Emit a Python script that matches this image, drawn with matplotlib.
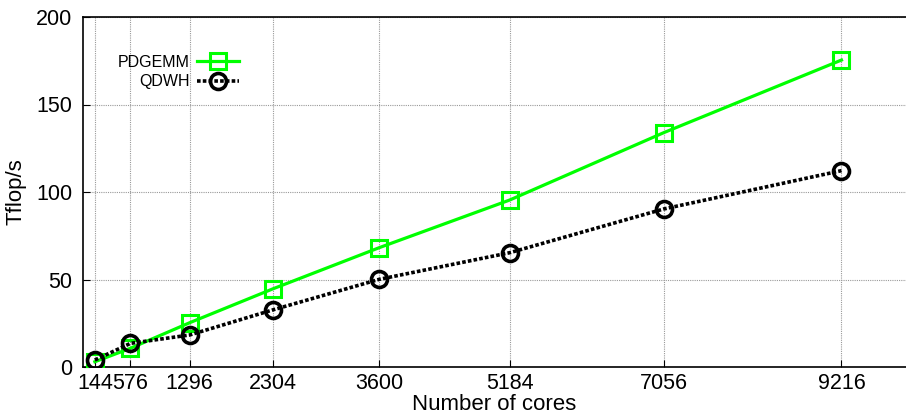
import matplotlib
matplotlib.use("Agg")
import matplotlib.pyplot as plt

plt.rcParams['font.family'] = ['Liberation Sans', 'DejaVu Sans']

cores = [144, 576, 1296, 2304, 3600, 5184, 7056, 9216]
pdgemm = [3.0, 10.7, 25.3, 44.6, 68.2, 95.4, 133.9, 175.4]
qdwh = [4.0, 13.5, 18.3, 32.6, 50.1, 65.3, 90.3, 112.2]
yticks = [0, 50, 100, 150, 200]

fig = plt.figure(figsize=(9.06, 4.16), dpi=100)
ax = fig.add_axes([83/906, 1 - 367/416, (906 - 83)/906, (367 - 17)/416])

ax.plot(cores, pdgemm, color='#00ff00', lw=2.3, marker='s', markersize=11.5,
        markerfacecolor='none', markeredgecolor='#00ff00', markeredgewidth=2.2,
        label='PDGEMM', zorder=3)
ax.plot(cores, qdwh, color='black', lw=2.6, linestyle=(0, (1, 0.6)), marker='o',
        markersize=11.5, markerfacecolor='none', markeredgecolor='black',
        markeredgewidth=2.6, label='QDWH', zorder=4)

ax.set_xlim(0, 10000)
ax.set_ylim(0, 200)
ax.set_xticks(cores)
ax.set_xticklabels([str(c) for c in cores])
ax.set_yticks(yticks)

ax.grid(True, color='#999999', linestyle=(0, (1, 1)), lw=0.8)
ax.set_axisbelow(True)
ax.spines['right'].set_visible(False)
for s in ['left', 'bottom', 'top']:
    ax.spines[s].set_linewidth(1.2)

ax.tick_params(axis='both', direction='in', labelsize=15.5, length=5, width=0.8)
ax.tick_params(axis='y', pad=7.5)
ax.tick_params(axis='x', pad=4.5)

ax.set_xlabel('Number of cores', fontsize=16, labelpad=0)
ax.set_ylabel('Tflop/s', fontsize=16, labelpad=7)

leg = ax.legend(loc='upper left', bbox_to_anchor=(0.034, 0.911), frameon=False,
                markerfirst=False, fontsize=11.5, handlelength=2.6,
                handletextpad=0.5, labelspacing=0.3, borderaxespad=0)

fig.savefig('out.png', dpi=100)
